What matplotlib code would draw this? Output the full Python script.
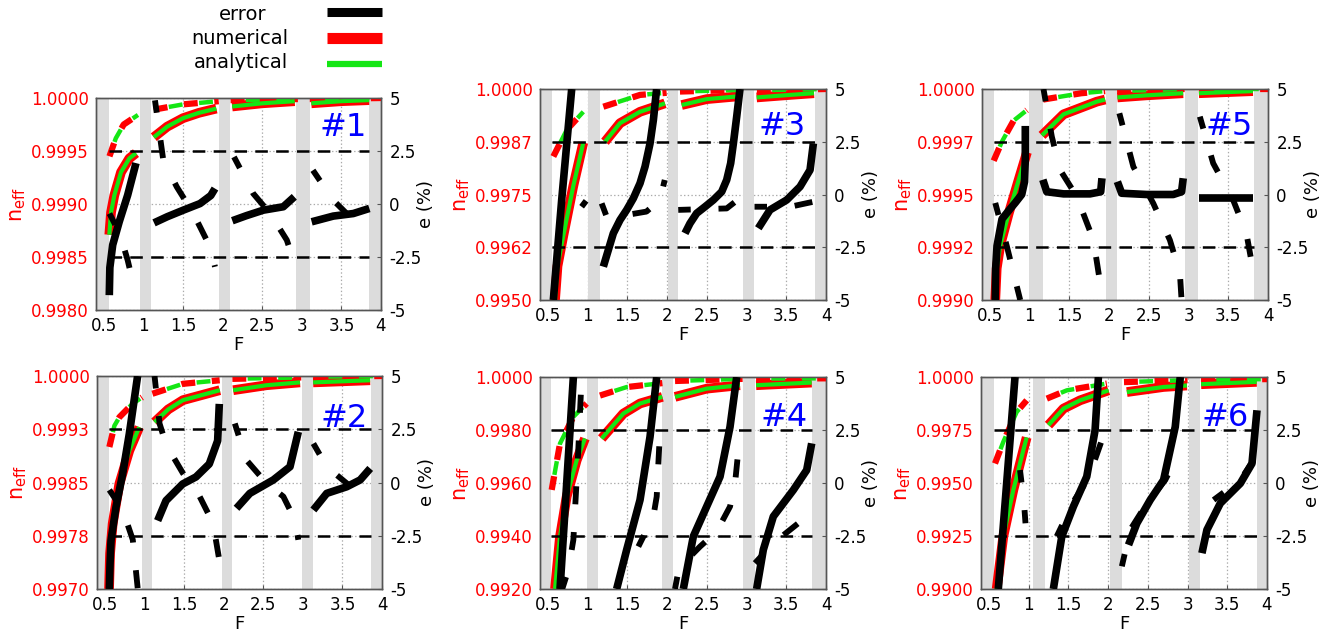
import matplotlib
matplotlib.use('Agg')
import matplotlib.pyplot as plt

plt.rcParams['font.family'] = 'DejaVu Sans'
plt.rcParams['axes.unicode_minus'] = False
plt.rcParams['mathtext.default'] = 'regular'
plt.rcParams['lines.scale_dashes'] = False

W, H = 1335, 639

# ---------------- data ----------------
F_TICKS = [0.5, 1, 1.5, 2, 2.5, 3, 3.5, 4]
F_LABELS = ['0.5', '1', '1.5', '2', '2.5', '3', '3.5', '4']
E_TICKS = [-5, -2.5, 0, 2.5, 5]
E_LABELS = ['-5', '-2.5', '0', '2.5', '5']

# each curve is a list of segments, each segment a list of (F, value)
# num = solid mode n_eff, num_d = dashed mode n_eff, err / err_d = error e (%)

# panel #1
p1_ylim = (0.998, 1.0)
p1_ylabels = ['0.9980', '0.9985', '0.9990', '0.9995', '1.0000']
p1_bands = [(0.40, 0.57), (0.95, 1.10), (1.95, 2.09), (2.92, 3.10), (3.85, 4.0)]
p1_num = [[(0.568, 0.99871), (0.59, 0.99892), (0.631, 0.99908), (0.716, 0.9993), (0.821, 0.99943), (0.905, 0.99948)],
          [(1.13, 0.99963), (1.30, 0.99973), (1.50, 0.99981), (1.70, 0.99986), (1.92, 0.9999)],
          [(2.12, 0.99992), (2.50, 0.99995), (2.91, 0.99997)],
          [(3.12, 0.99995), (3.50, 0.99997), (3.85, 0.99998)]]
p1_num_d = [[(0.57, 0.99945), (0.65, 0.99962), (0.75, 0.99975), (0.93, 0.99984)],
            [(1.13, 0.99989), (1.50, 0.99994), (1.95, 0.99997)],
            [(2.10, 0.99998), (2.95, 0.99999)],
            [(3.10, 0.99999), (4.0, 1.0)]]
p1_err = [[(0.568, -4.3), (0.575, -3.0), (0.611, -1.93), (0.694, -0.83), (0.80, 0.42), (0.905, 1.93)],
          [(1.133, -0.89), (1.30, -0.6), (1.503, -0.29), (1.714, 0.02), (1.85, 0.4), (1.903, 0.73)],
          [(2.122, -0.79), (2.30, -0.55), (2.514, -0.29), (2.766, -0.13), (2.905, 0.34)],
          [(3.124, -0.84), (3.397, -0.57), (3.65, -0.45), (3.853, -0.21)]]
p1_err_d = [[(0.57, -0.45), (0.70, -1.39), (0.80, -2.65), (0.86, -3.59)],
            [(1.145, 4.89), (1.25, 2.06), (1.42, 0.81), (1.63, -0.45), (1.84, -2.02), (1.903, -2.96)],
            [(2.143, 2.22), (2.387, 0.49), (2.60, -0.45), (2.81, -1.70), (2.895, -2.65)],
            [(3.14, 1.59), (3.397, 0.18), (3.566, -0.45), (3.714, -1.0)]]

# panel #2
p2_ylim = (0.997, 1.0)
p2_ylabels = ['0.9970', '0.9978', '0.9985', '0.9993', '1.0000']
p2_bands = [(0.40, 0.548), (0.97, 1.097), (1.985, 2.111), (2.986, 3.125), (3.865, 4.0)]
p2_num = [[(0.552, 0.997), (0.565, 0.9975), (0.598, 0.99792), (0.682, 0.99848), (0.808, 0.99895), (0.934, 0.99928)],
          [(1.127, 0.99935), (1.30, 0.99953), (1.486, 0.99966), (1.951, 0.9998)],
          [(2.12, 0.9998), (2.54, 0.99987), (2.964, 0.99991)],
          [(3.13, 0.99991), (3.85, 0.99994)]]
p2_num_d = [[(0.556, 0.999), (0.62, 0.9993), (0.683, 0.99942), (0.85, 0.99961), (0.97, 0.9997)],
            [(1.10, 0.99975), (1.486, 0.99989), (1.95, 0.99994)],
            [(2.11, 0.99996), (2.98, 0.99998)],
            [(3.13, 0.99999), (4.0, 1.0)]]
p2_err = [[(0.556, -5), (0.565, -3.8), (0.577, -2.73), (0.64, -1.15), (0.724, 0.4), (0.808, 2.28), (0.913, 5)],
          [(1.166, -1.79), (1.272, -0.85), (1.482, -0.07), (1.65, 0.26), (1.818, 0.87), (1.924, 1.96), (1.945, 3.69)],
          [(2.162, -1.21), (2.331, -0.51), (2.627, 0.12), (2.838, 0.74), (2.943, 2.38)],
          [(3.133, -1.29), (3.302, -0.51), (3.555, -0.2), (3.724, 0.12), (3.851, 0.66)]]
p2_err_d = [[(0.556, -0.35), (0.725, -1.29), (0.852, -2.69), (0.915, -5)],
            [(1.127, 5), (1.19, 2.77), (1.275, 1.76), (1.486, 0.43), (1.697, -0.66), (1.866, -1.91), (1.951, -3.78)],
            [(2.141, 2.77), (2.288, 1.05), (2.542, -0.04), (2.754, -0.66), (2.901, -1.76), (2.943, -2.69)],
            [(3.133, 1.83), (3.302, 0.74), (3.555, -0.04), (3.766, -0.82)]]

# panel #3
p3_ylim = (0.995, 1.0)
p3_ylabels = ['0.9950', '0.9962', '0.9975', '0.9987', '1.0000']
p3_bands = [(0.40, 0.547), (1.008, 1.155), (2.007, 2.141), (2.959, 3.094), (3.862, 4.0)]
p3_num = [[(0.589, 0.995), (0.62, 0.9958), (0.693, 0.99652), (0.819, 0.9977), (0.945, 0.99873)],
          [(1.218, 0.99875), (1.407, 0.99919), (1.659, 0.99946), (1.973, 0.99966)],
          [(2.183, 0.99962), (2.498, 0.99976), (2.917, 0.99983)],
          [(3.127, 0.9998), (3.547, 0.99986), (3.849, 0.9999)]]
p3_num_d = [[(0.568, 0.9984), (0.736, 0.99903), (0.945, 0.99946)],
            [(1.197, 0.99958), (1.659, 0.99986), (1.994, 0.99991)],
            [(2.162, 0.99994), (2.95, 0.99998)],
            [(3.13, 0.99997), (4.0, 1.0)]]
p3_err = [[(0.568, -5), (0.673, -0.26), (0.799, 5)],
          [(1.197, -3.42), (1.26, -2.63), (1.323, -1.84), (1.407, -1.21), (1.491, -0.73), (1.575, -0.18),
           (1.659, 0.53), (1.722, 1.32), (1.785, 2.42), (1.827, 3.53), (1.868, 5)],
          [(2.225, -1.84), (2.288, -1.37), (2.372, -0.89), (2.477, -0.58), (2.582, -0.26), (2.687, 0.13),
           (2.75, 0.69), (2.80, 1.48), (2.834, 2.42), (2.876, 3.69), (2.917, 5)],
          [(3.148, -1.6), (3.295, -0.73), (3.505, -0.26), (3.673, 0.37), (3.799, 1.16), (3.841, 2.42)]]
p3_err_d = [[(0.924, -0.58), (0.98, -0.3)],
            [(1.176, -0.42), (1.239, -1.05), (1.49, -0.97), (1.74, -0.81), (1.91, -0.26), (1.97, 0.69)],
            [(2.14, -0.73), (2.75, -0.66), (2.94, -0.1)],
            [(3.10, -0.58), (3.55, -0.58), (3.845, -0.34)]]

# panel #4
p4_ylim = (0.992, 1.0)
p4_ylabels = ['0.9920', '0.9940', '0.9960', '0.9980', '1.0000']
p4_bands = [(0.40, 0.538), (0.996, 1.134), (1.94, 2.078), (2.96, 3.106), (3.828, 4.0)]
p4_num = [[(0.589, 0.992), (0.652, 0.99398), (0.736, 0.99549), (0.862, 0.99686), (0.966, 0.99768)],
          [(1.176, 0.99768), (1.449, 0.99862), (1.659, 0.999), (1.94, 0.99925)],
          [(2.10, 0.99925), (2.498, 0.99956), (2.917, 0.99969)],
          [(3.12, 0.99969), (3.82, 0.99979)]]
p4_num_d = [[(0.547, 0.99574), (0.652, 0.99749), (0.82, 0.9985), (0.987, 0.999)],
            [(1.155, 0.9993), (1.491, 0.99962), (1.94, 0.99977)],
            [(2.10, 0.99985), (2.95, 0.99993)],
            [(3.12, 0.99994), (4.0, 0.99995)]]
p4_err = [[(0.652, -5), (0.736, -0.02), (0.82, 5)],
          [(1.365, -5), (1.491, -3.15), (1.659, -0.8), (1.785, 2.18), (1.869, 5)],
          [(2.204, -5), (2.33, -2.52), (2.498, -1.11), (2.666, 0.3), (2.792, 2.65), (2.876, 5)],
          [(3.127, -5), (3.211, -3.15), (3.337, -1.58), (3.589, -0.33), (3.757, 0.61), (3.82, 1.87)]]
p4_err_d = [[(0.68, -5), (0.757, -4.09), (0.82, -2.68), (0.882, 1.55), (0.924, 5)],
            [(1.638, -3.0), (1.827, -1.58), (1.869, -0.64), (1.911, 2.49)],
            [(2.099, -5), (2.15, -4.0), (2.414, -3.0), (2.624, -2.29), (2.792, -1.11), (2.855, -0.02), (2.897, 1.55)],
            [(3.106, -3.78), (3.337, -2.84), (3.547, -2.21), (3.757, -1.58)]]

# panel #5
p5_ylim = (0.999, 1.0)
p5_ylabels = ['0.9990', '0.9992', '0.9995', '0.9997', '1.0000']
p5_bands = [(0.40, 0.555), (0.986, 1.162), (1.957, 2.095), (2.953, 3.121), (3.819, 4.0)]
p5_num = [[(0.567, 0.999), (0.585, 0.99915), (0.63, 0.99926), (0.736, 0.99941), (0.862, 0.99957), (0.966, 0.9997)],
          [(1.155, 0.99978), (1.426, 0.99988), (1.844, 0.99994), (1.95, 0.99995)],
          [(2.104, 0.99996), (2.472, 0.99997), (2.932, 0.99998)],
          [(3.13, 0.99998), (3.81, 0.99999)]]
p5_num_d = [[(0.547, 0.99966), (0.65, 0.99975), (0.798, 0.99985), (0.965, 0.9999)],
            [(1.17, 0.99995), (1.65, 0.99998), (1.95, 0.99999)],
            [(2.10, 0.99999), (2.95, 1.0)],
            [(3.13, 1.0), (4.0, 1.0)]]
p5_err = [[(0.567, -5), (0.572, -3.5), (0.589, -2.44), (0.652, -1.16), (0.75, -0.7), (0.819, -0.39),
           (0.90, 0.0), (0.935, 0.6), (0.945, 1.67), (0.945, 3.25)],
          [(1.166, 0.7), (1.215, 0.13), (1.426, 0.03), (1.76, 0.03), (1.894, 0.13), (1.91, 0.77)],
          [(2.104, 0.61), (2.158, 0.06), (2.472, 0.0), (2.807, 0.0), (2.912, 0.13), (2.933, 0.77)],
          [(3.13, -0.15), (3.81, -0.15)]]
p5_err_d = [[(0.567, -0.4), (0.714, -2.47), (0.881, -5)],
            [(1.174, 5), (1.279, 2.74), (1.384, 1.16), (1.593, -0.1), (1.803, -2.16), (1.907, -4.68), (1.92, -5.5)],
            [(2.129, 3.85), (2.305, 1.32), (2.556, -0.42), (2.765, -2.16), (2.891, -3.74), (2.912, -5)],
            [(3.142, 3.69), (3.31, 1.48), (3.561, -0.26), (3.728, -1.84), (3.804, -3.42)]]

# panel #6
p6_ylim = (0.990, 1.0)
p6_ylabels = ['0.9900', '0.9925', '0.9950', '0.9975', '1.0000']
p6_bands = [(0.40, 0.564), (1.051, 1.207), (2.026, 2.181), (3.013, 3.16), (3.874, 4.0)]
p6_num = [[(0.597, 0.99), (0.681, 0.99248), (0.807, 0.99467), (0.933, 0.99655), (0.975, 0.99715)],
          [(1.249, 0.99773), (1.438, 0.99851), (1.648, 0.9989), (2.005, 0.99937)],
          [(2.236, 0.99929), (2.698, 0.99953), (2.992, 0.9996)],
          [(3.17, 0.99966), (3.87, 0.99977)]]
p6_num_d = [[(0.576, 0.99592), (0.681, 0.99694), (0.849, 0.99835), (0.975, 0.9989)],
            [(1.228, 0.99898), (1.48, 0.99937), (1.984, 0.99969)],
            [(2.20, 0.99976), (3.0, 0.99985)],
            [(3.17, 0.99988), (4.0, 0.9999)]]
p6_err = [[(0.618, -5), (0.723, -0.02), (0.828, 5)],
          [(1.311, -5), (1.417, -2.52), (1.563, -1.11), (1.731, 0.3), (1.836, 2.49), (1.878, 5)],
          [(2.257, -2.92), (2.362, -1.9), (2.53, -0.8), (2.698, 0.14), (2.845, 2.65), (2.908, 5)],
          [(3.181, -3.31), (3.244, -2.21), (3.412, -0.96), (3.664, -0.02), (3.811, 0.92), (3.874, 3.43)]]
p6_err_d = [[(0.891, 0.61), (0.942, -0.96), (0.96, -1.9)],
            [(1.353, -2.52), (1.563, -0.88), (1.752, 0.22), (1.921, 2.02)],
            [(2.173, -3.93), (2.278, -2.21), (2.488, -0.96), (2.719, 0.14), (2.908, 1.55)],
            [(3.328, -0.8), (3.496, -0.33), (3.664, 0.14), (3.832, 1.08)]]

RED = '#ff0000'
GREEN = '#14e614'
BLUE = '#0000ff'
SPINE = '#555555'

fig = plt.figure(figsize=(W / 100, H / 100), dpi=100)


def xy(seg):
    return [p[0] for p in seg], [p[1] for p in seg]


def panel(rect, tag, tag_pos, ylim, ylabels, bands, num, num_d, err, err_d):
    l, t, r, b = rect
    ax = fig.add_axes([l / W, 1 - b / H, (r - l) / W, (b - t) / H])
    ax2 = ax.twinx()

    ax.set_xlim(0.4, 4.0)
    ax.set_ylim(*ylim)
    step = (ylim[1] - ylim[0]) / 4
    ax.set_yticks([ylim[0] + i * step for i in range(5)])
    ax.set_yticklabels(ylabels)
    ax.set_xticks(F_TICKS)
    ax.set_xticklabels(F_LABELS)
    ax.set_axisbelow(True)
    ax.grid(True, linestyle=':', color='#aaaaaa', lw=0.9)
    ax.tick_params(axis='both', direction='in', length=3, labelsize=12, pad=5, color=SPINE)
    ax.tick_params(axis='y', labelcolor=RED)

    for b0, b1 in bands:
        ax.axvspan(b0, b1, color='#dcdcdc', lw=0, zorder=1)

    for seg in num:
        x, y = xy(seg)
        ax.plot(x, y, color=RED, lw=7, solid_capstyle='butt', solid_joinstyle='round', zorder=3)
        ax.plot(x, y, color=GREEN, lw=3, solid_capstyle='butt', solid_joinstyle='round', zorder=4)
    for seg in num_d:
        x, y = xy(seg)
        ax.plot(x, y, color=RED, lw=4.5, linestyle=(0, (10, 12)), zorder=3)
        ax.plot(x, y, color=GREEN, lw=3.2, linestyle=(11, (10, 12)), zorder=4)

    ax.set_xlabel('F', fontsize=13, labelpad=1)
    ax.set_ylabel(r'n$_{\rm eff}$', color=RED, fontsize=15)
    ax.yaxis.set_label_coords(-68 / (r - l), 0.5)

    ax2.set_ylim(-5, 5)
    ax2.set_yticks(E_TICKS)
    ax2.set_yticklabels(E_LABELS)
    ax2.tick_params(axis='y', direction='in', length=3, labelsize=12, pad=6, color=SPINE)
    ax2.hlines([-2.5, 2.5], bands[0][1], bands[-1][0], colors='k', lw=1.8,
               linestyles=[(0, (9, 6))], zorder=2)
    for seg in err:
        x, y = xy(seg)
        ax2.plot(x, y, color='k', lw=5.5, solid_capstyle='butt', solid_joinstyle='round', zorder=5)
    for seg in err_d:
        x, y = xy(seg)
        ax2.plot(x, y, color='k', lw=4.2, linestyle=(4, (13, 20)), zorder=5)
    ax2.set_ylabel('e (%)', fontsize=13)
    ax2.yaxis.set_label_coords(1 + 36 / (r - l), 0.5)

    for a in (ax, ax2):
        for s in a.spines.values():
            s.set_color(SPINE)
            s.set_linewidth(1)

    ax2.text(tag_pos[0], tag_pos[1], tag, transform=ax2.transAxes, color=BLUE,
             fontsize=23, ha='right', va='center', zorder=10)


panel((96, 98, 381, 310), '#1', (0.95, 0.86), p1_ylim, p1_ylabels, p1_bands, p1_num, p1_num_d, p1_err, p1_err_d)
panel((540, 89, 826, 300), '#3', (0.93, 0.82), p3_ylim, p3_ylabels, p3_bands, p3_num, p3_num_d, p3_err, p3_err_d)
panel((982, 89, 1268, 300), '#5', (0.945, 0.82), p5_ylim, p5_ylabels, p5_bands, p5_num, p5_num_d, p5_err, p5_err_d)
panel((97, 376, 382, 589), '#2', (0.95, 0.80), p2_ylim, p2_ylabels, p2_bands, p2_num, p2_num_d, p2_err, p2_err_d)
panel((540, 377, 826, 589), '#4', (0.935, 0.81), p4_ylim, p4_ylabels, p4_bands, p4_num, p4_num_d, p4_err, p4_err_d)
panel((981, 377, 1267, 589), '#6', (0.935, 0.81), p6_ylim, p6_ylabels, p6_bands, p6_num, p6_num_d, p6_err, p6_err_d)

# legend block at the top, in figure pixel coordinates
leg = fig.add_axes([0, 1 - 84 / H, 470 / W, 84 / H])
leg.set_xlim(0, 470)
leg.set_ylim(84, 0)
leg.axis('off')
leg.text(243, 14, 'error', fontsize=14, ha='center', va='center')
leg.text(240, 38, 'numerical', fontsize=14, ha='center', va='center')
leg.text(241, 63, 'analytical', fontsize=14, ha='center', va='center')
leg.plot([327, 382], [12, 12], color='k', lw=6.5, solid_capstyle='butt')
leg.plot([327, 382], [38, 38], color=RED, lw=8, solid_capstyle='butt')
leg.plot([327, 382], [64, 64], color=GREEN, lw=4.5, solid_capstyle='butt')

fig.savefig('out.png', dpi=100)
